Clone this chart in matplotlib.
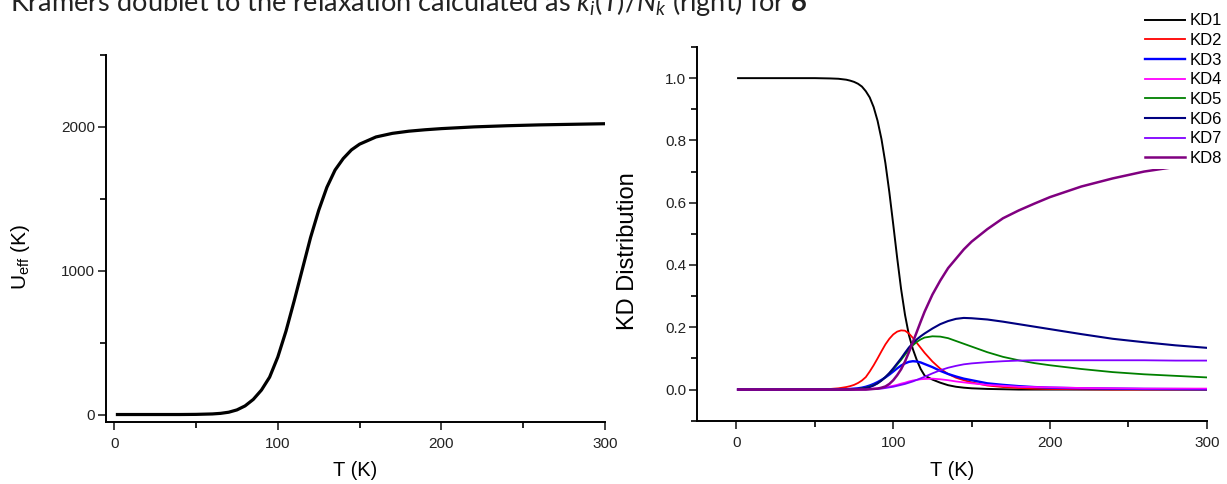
import matplotlib
matplotlib.use("Agg")
import matplotlib.pyplot as plt
from matplotlib.ticker import MultipleLocator

plt.rcParams['font.family'] = ['Liberation Sans', 'DejaVu Sans']
plt.rcParams['mathtext.fontset'] = 'custom'
plt.rcParams['mathtext.it'] = 'Lato:italic'
plt.rcParams['mathtext.bf'] = 'Lato:bold'
plt.rcParams['mathtext.rm'] = 'Lato'

# left panel: U_eff vs T
t_left = [1, 10, 20, 30, 40, 50, 60, 65, 70, 75, 80, 85, 90, 95, 100, 105, 110,
          115, 120, 125, 130, 135, 140, 145, 150, 160, 170, 180, 190, 200, 220,
          240, 260, 280, 300]
u_eff = [0, 0, 0, 0, 0, 1, 4, 8, 16, 32, 60, 105, 170, 260, 400, 580, 790,
         1010, 1230, 1420, 1580, 1700, 1780, 1840, 1880, 1930, 1955, 1970, 1980,
         1988, 2000, 2008, 2014, 2018, 2022]

# right panel: KD distribution vs T
t_right = [1, 20, 40, 50, 60, 65, 70, 72.5, 75, 77.5, 80, 82.5, 85, 87.5, 90,
           92.5, 95, 97.5, 100, 102.5, 105, 107.5, 110, 112.5, 115, 117.5, 120,
           125, 130, 135, 140, 145, 150, 160, 170, 180, 190, 200, 220, 240, 260,
           280, 300]
kd1 = [1, 1, 1, 1, 0.999, 0.998, 0.995, 0.992, 0.988, 0.982, 0.973, 0.958,
       0.938, 0.907, 0.863, 0.804, 0.727, 0.634, 0.53, 0.423, 0.323, 0.24, 0.175,
       0.13, 0.095, 0.066, 0.045, 0.032, 0.022, 0.014, 0.009, 0.006, 0.004,
       0.002, 0.001, 0, 0, 0, 0, 0, 0, 0, 0]
kd2 = [0, 0, 0, 0, 0.002, 0.004, 0.008, 0.011, 0.015, 0.021, 0.029, 0.04,
       0.058, 0.078, 0.1, 0.123, 0.145, 0.163, 0.177, 0.186, 0.19, 0.189, 0.18,
       0.166, 0.15, 0.134, 0.118, 0.09, 0.067, 0.05, 0.038, 0.03, 0.023, 0.013,
       0.008, 0.005, 0.003, 0.002, 0.001, 0, 0, 0, 0]
kd3 = [0, 0, 0, 0, 0, 0, 0.001, 0.002, 0.003, 0.004, 0.006, 0.009, 0.013,
       0.018, 0.024, 0.031, 0.039, 0.048, 0.058, 0.068, 0.077, 0.084, 0.089,
       0.091, 0.09, 0.087, 0.082, 0.072, 0.06, 0.05, 0.042, 0.035, 0.03, 0.02,
       0.015, 0.011, 0.008, 0.006, 0.004, 0.003, 0.002, 0.0015, 0.001]
kd4 = [0, 0, 0, 0, 0, 0, 0, 0, 0, 0, 0.001, 0.0015, 0.002, 0.003, 0.004,
       0.0055, 0.007, 0.0095, 0.012, 0.015, 0.019, 0.022, 0.026, 0.029, 0.031,
       0.033, 0.034, 0.035, 0.033, 0.03, 0.026, 0.023, 0.02, 0.015, 0.012, 0.009,
       0.008, 0.007, 0.005, 0.004, 0.003, 0.003, 0.003]
kd5 = [0, 0, 0, 0, 0, 0, 0, 0, 0.001, 0.002, 0.004, 0.006, 0.01, 0.014, 0.02,
       0.029, 0.04, 0.052, 0.065, 0.08, 0.095, 0.112, 0.128, 0.142, 0.153, 0.161,
       0.167, 0.171, 0.17, 0.165, 0.156, 0.147, 0.138, 0.12, 0.105, 0.094, 0.085,
       0.078, 0.066, 0.056, 0.049, 0.044, 0.039]
kd6 = [0, 0, 0, 0, 0, 0, 0, 0, 0.001, 0.002, 0.003, 0.005, 0.008, 0.013, 0.02,
       0.029, 0.04, 0.053, 0.068, 0.084, 0.1, 0.118, 0.135, 0.149, 0.161, 0.171,
       0.18, 0.196, 0.21, 0.22, 0.227, 0.23, 0.229, 0.225, 0.218, 0.21, 0.202,
       0.194, 0.178, 0.163, 0.152, 0.142, 0.134]
kd7 = [0, 0, 0, 0, 0, 0, 0, 0, 0, 0, 0, 0, 0.001, 0.0015, 0.002, 0.003, 0.005,
       0.007, 0.009, 0.012, 0.015, 0.018, 0.022, 0.026, 0.031, 0.036, 0.041,
       0.052, 0.062, 0.07, 0.076, 0.081, 0.084, 0.088, 0.091, 0.093, 0.094,
       0.094, 0.094, 0.094, 0.094, 0.093, 0.093]
kd8 = [0, 0, 0, 0, 0, 0, 0, 0, 0, 0, 0, 0, 0.001, 0.002, 0.003, 0.006, 0.01,
       0.018, 0.03, 0.046, 0.065, 0.09, 0.12, 0.152, 0.185, 0.218, 0.25, 0.305,
       0.35, 0.39, 0.42, 0.45, 0.475, 0.515, 0.55, 0.575, 0.597, 0.618, 0.652,
       0.678, 0.70, 0.715, 0.73]

kd_names = ['KD1', 'KD2', 'KD3', 'KD4', 'KD5', 'KD6', 'KD7', 'KD8']
kd_colors = ['#000000', '#ff0000', '#0000ff', '#ff00ff', '#008000', '#000080',
             '#8000ff', '#800080']
kd_widths = [1.4, 1.3, 1.7, 1.3, 1.3, 1.5, 1.3, 1.8]

fig = plt.figure(figsize=(12.27, 4.84), dpi=100)

ax1 = fig.add_axes([0.0864, 0.1287, 0.4067, 0.7577])
ax2 = fig.add_axes([0.5683, 0.1308, 0.4152, 0.7721])

# left
ax1.plot(t_left, u_eff, color='black', lw=2.3, solid_capstyle='butt')
ax1.set_xlim(-5, 300)
ax1.set_ylim(-50, 2500)
ax1.xaxis.set_major_locator(MultipleLocator(100))
ax1.xaxis.set_minor_locator(MultipleLocator(50))
ax1.yaxis.set_major_locator(MultipleLocator(1000))
ax1.yaxis.set_minor_locator(MultipleLocator(500))
ax1.set_xlabel('T (K)', fontsize=14.5)
ax1.set_ylabel(r'U$_\mathregular{eff}$ (K)', fontsize=15)
ax1.xaxis.set_label_coords(0.5, -0.107)
ax1.yaxis.set_label_coords(-0.148, 0.45)

# right
for vals, name, c, w in zip([kd1, kd2, kd3, kd4, kd5, kd6, kd7, kd8],
                            kd_names, kd_colors, kd_widths):
    ax2.plot(t_right, vals, color=c, lw=w, label=name)
ax2.set_xlim(-25, 300)
ax2.set_ylim(-0.1, 1.1)
ax2.xaxis.set_major_locator(MultipleLocator(100))
ax2.xaxis.set_minor_locator(MultipleLocator(50))
ax2.yaxis.set_major_locator(MultipleLocator(0.2))
ax2.yaxis.set_minor_locator(MultipleLocator(0.1))
ax2.yaxis.set_major_formatter(plt.FormatStrFormatter('%.1f'))
ax2.set_xlabel('T (K)', fontsize=14.5)
ax2.set_ylabel('KD Distribution', fontsize=17)
ax2.xaxis.set_label_coords(0.5, -0.108)
ax2.yaxis.set_label_coords(-0.1145, 0.455)

for ax in (ax1, ax2):
    for s in ('top', 'right'):
        ax.spines[s].set_visible(False)
    for s in ('left', 'bottom'):
        ax.spines[s].set_linewidth(1.4)
    ax.tick_params(which='major', direction='out', length=6, width=1.2,
                   labelsize=11, colors='#222222')
    ax.tick_params(which='minor', direction='out', length=4, width=1.2)
    ax.tick_params(axis='x', which='major', pad=5)
    ax.tick_params(axis='y', which='major', pad=2)

leg = fig.legend(*ax2.get_legend_handles_labels(), loc='upper left',
                 bbox_to_anchor=(0.9304, 0.979), fontsize=12, frameon=True,
                 borderpad=0.2, labelspacing=0.28, handlelength=2.4,
                 handletextpad=0.3, borderaxespad=0)
leg.get_frame().set_facecolor('white')
leg.get_frame().set_edgecolor('none')
leg.get_frame().set_alpha(1)

fig.text(0.008, 1 - 11 / 484,
         r'Kramers doublet to the relaxation calculated as $k_i(T)/N_k$ (right) for $\mathbf{6}$',
         fontsize=19.5, family='Lato', va='baseline', ha='left', color='#222222')

fig.savefig('out.png', dpi=100)
